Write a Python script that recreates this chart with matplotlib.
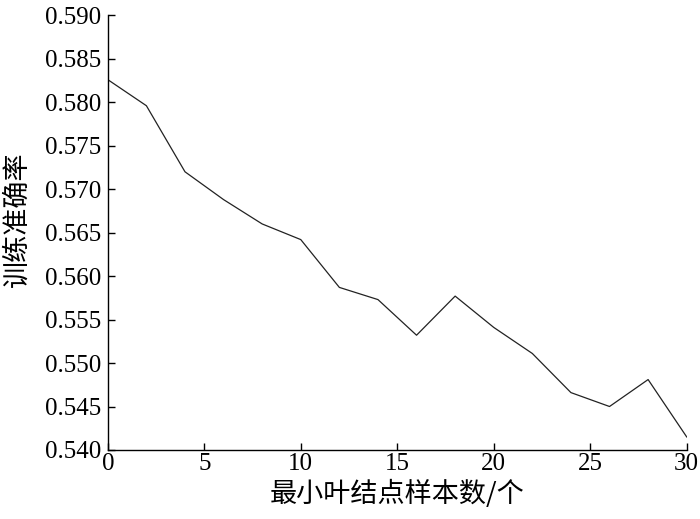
import matplotlib
matplotlib.use("Agg")
import matplotlib.pyplot as plt

# min samples per leaf vs. training accuracy
leaf_sizes = [0, 2, 4, 6, 8, 10, 12, 14, 16, 18, 20, 22, 24, 26, 28, 30]
train_acc = [0.5826, 0.5796, 0.5720, 0.5688, 0.5660, 0.5642, 0.5587, 0.5573,
             0.5532, 0.5577, 0.5541, 0.5511, 0.5466, 0.5450, 0.5481, 0.5415]

x_ticks = [0, 5, 10, 15, 20, 25, 30]
y_ticks = [0.540, 0.545, 0.550, 0.555, 0.560, 0.565, 0.570, 0.575, 0.580, 0.585, 0.590]

xlabel = "最小叶结点样本数/个"
ylabel = "训练准确率"

cjk = ["Noto Sans CJK SC", "DejaVu Sans"]

fig = plt.figure(figsize=(7.0, 5.19), dpi=100)
ax = fig.add_axes([0.154, 0.133, 0.827, 0.8375])

ax.plot(leaf_sizes, train_acc, color="#222222", linewidth=0.9)

ax.set_xlim(0, 30)
ax.set_ylim(0.540, 0.590)
ax.set_xticks(x_ticks)
ax.set_yticks(y_ticks)
ax.set_xticklabels([str(v) for v in x_ticks], family="Liberation Serif", fontsize=18)
ax.set_yticklabels([f"{v:.3f}" for v in y_ticks], family="Liberation Serif", fontsize=18)

for side in ("top", "right"):
    ax.spines[side].set_visible(False)
for side in ("left", "bottom"):
    ax.spines[side].set_linewidth(1.0)
ax.tick_params(direction="in", length=5, width=1.0)
ax.tick_params(axis="x", pad=2)
ax.tick_params(axis="y", pad=5)

ax.set_xlabel(xlabel, family=cjk, fontsize=19.5, labelpad=4)
ax.set_ylabel(ylabel, family=cjk, fontsize=19.5)
# label sits a little above the axis centre in the original
ax.yaxis.set_label_coords(-0.133, 0.53)

fig.savefig("out.png", dpi=100)
plt.close(fig)
